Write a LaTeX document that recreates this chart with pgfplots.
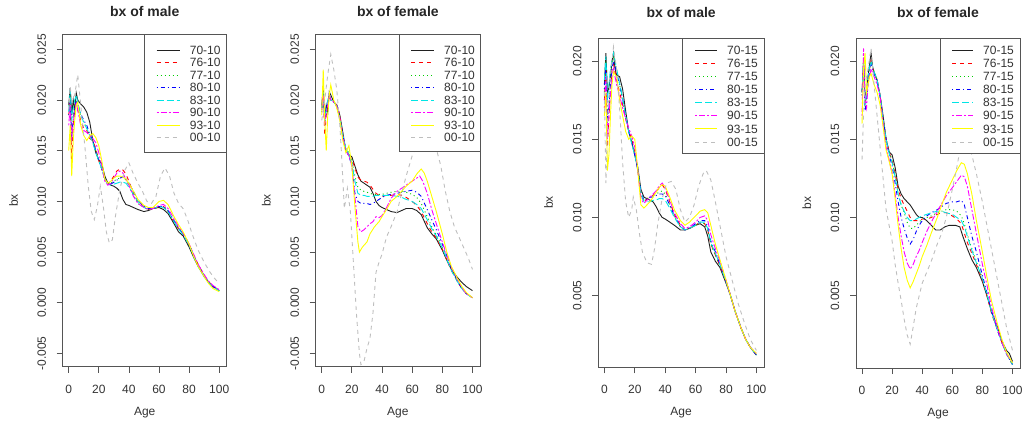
\documentclass[border=0pt]{standalone}
\usepackage{pgfplots}
\pgfplotsset{compat=1.18}
\usepackage{fontspec}
\setmainfont{Liberation Sans}
\definecolor{rblack}{HTML}{202020}
\definecolor{rred}{HTML}{FF0000}
\definecolor{rgreen}{HTML}{00CD00}
\definecolor{rblue}{HTML}{0000FF}
\definecolor{rcyan}{HTML}{00E5E5}
\definecolor{rmag}{HTML}{FF00FF}
\definecolor{ryel}{HTML}{FFFF00}
\definecolor{rgray}{HTML}{BEBEBE}
\definecolor{boxcol}{HTML}{555555}
\tikzset{
  s1/.style={draw=rblack, solid, line width=0.9pt},
  s2/.style={draw=rred, dash pattern=on 4pt off 4pt, line width=0.9pt},
  s3/.style={draw=rgreen, dash pattern=on 1pt off 3pt, line width=0.9pt},
  s4/.style={draw=rblue, dash pattern=on 1pt off 3pt on 4pt off 3pt, line width=0.9pt},
  s5/.style={draw=rcyan, dash pattern=on 7pt off 3pt, line width=0.9pt},
  s6/.style={draw=rmag, dash pattern=on 2pt off 2pt on 6pt off 2pt, line width=0.9pt},
  s7/.style={draw=ryel, solid, line width=0.9pt},
  s8/.style={draw=rgray, dash pattern=on 4pt off 4pt, line width=0.9pt},
}
% legend helpers (drawn inside each axis, relative to its top-right corner)
\newcommand{\legbox}[2]{\draw[boxcol, line width=0.8pt, fill=white]
  ([xshift=-#1pt,yshift=-#2pt]rel axis cs:1,1) rectangle (rel axis cs:1,1);}
\newcommand{\legentry}[6]{%
  \draw[#1] ([xshift=-#4pt,yshift=-#2pt]rel axis cs:1,1) -- ([xshift=-#5pt,yshift=-#2pt]rel axis cs:1,1);
  \node[anchor=west, inner sep=0pt, font=\fontsize{12}{12}\selectfont, text=black!80]
    at ([xshift=-#6pt,yshift=-#2pt]rel axis cs:1,1) {#3};}
\pgfplotsset{
  rpanel/.style={
    scale only axis, clip mode=individual,
    scaled y ticks=false, scaled x ticks=false,
    axis line style={draw=boxcol, line width=0.8pt},
    tick align=outside, major tick length=6pt,
    tick style={draw=boxcol, line width=0.8pt},
    xtick pos=bottom, ytick pos=left,
    xmin=-4, xmax=105, xtick={0,20,40,60,80,100},
    xticklabels={0,20,40,60,80,100},
    ticklabel style={font=\fontsize{12}{12}\selectfont, text=black!80},
    xticklabel style={anchor=north, inner ysep=12pt},
    yticklabel style={rotate=90, anchor=south, inner ysep=10.5pt},
    xlabel={Age}, ylabel={bx},
    label style={font=\fontsize{12}{12}\selectfont, text=black!80},
    xlabel style={at={(axis description cs:0.5,-0.137)}, anchor=center},
    ylabel style={at={(axis description cs:-0.30,0.5)}, anchor=center},
    title style={anchor=center, font=\bfseries\fontsize{14}{14}\selectfont, text=black!85},
  },
}
\begin{document}
\begin{tikzpicture}[x=1pt,y=1pt]
\path[use as bounding box] (0,0) rectangle (1025,424);
% ---------------- Panel 1: male -10
\begin{axis}[rpanel, at={(62.7pt,57.3pt)}, anchor=south west, width=164pt, height=332.4pt,
  ymin=-0.0063, ymax=0.02648,
  ytick={-0.005,0,0.005,0.01,0.015,0.02,0.025},
  yticklabels={-0.005,0.000,0.005,0.010,0.015,0.020,0.025},
  title={bx of male}, title style={at={(axis description cs:0.5,1.0506)}}]
\addplot[s1] coordinates {(0,0.0195)(1,0.0212)(2,0.0185)(3,0.0200)(4,0.0190)(5,0.0207)(6,0.0200)(8,0.0196)(10,0.0193)(12,0.0188)(14,0.0178)(16,0.0160)(18,0.0148)(20,0.0141)(22,0.0137)(24,0.0125)(26,0.0118)(28,0.0116)(30,0.0115)(32,0.0113)(34,0.0110)(36,0.0102)(38,0.0097)(40,0.0096)(43,0.0094)(46,0.0092)(50,0.0090)(53,0.0091)(56,0.0093)(60,0.0094)(63,0.0092)(66,0.0088)(70,0.0078)(73,0.0070)(76,0.0066)(80,0.0055)(83,0.0045)(86,0.0036)(90,0.0026)(93,0.0020)(96,0.0016)(100,0.0012)};
\addplot[s2] coordinates {(0,0.0185)(1,0.0200)(2,0.0140)(3,0.0175)(4,0.0190)(5,0.0195)(6,0.0190)(8,0.0180)(10,0.0172)(12,0.0170)(14,0.0162)(16,0.0160)(18,0.0152)(20,0.0140)(22,0.0132)(24,0.0122)(26,0.0118)(28,0.0120)(30,0.0125)(32,0.0130)(34,0.0132)(36,0.0131)(38,0.0127)(40,0.0120)(43,0.0108)(46,0.0100)(50,0.0095)(53,0.0092)(56,0.0092)(60,0.0095)(63,0.0095)(66,0.0090)(70,0.0080)(73,0.0073)(76,0.0068)(80,0.0058)(83,0.0047)(86,0.0038)(90,0.0027)(93,0.0021)(96,0.0016)(100,0.0013)};
\addplot[s3] coordinates {(0,0.0190)(1,0.0205)(2,0.0160)(3,0.0185)(4,0.0195)(5,0.0200)(6,0.0195)(8,0.0185)(10,0.0178)(12,0.0172)(14,0.0165)(16,0.0160)(18,0.0150)(20,0.0140)(22,0.0133)(24,0.0122)(26,0.0117)(28,0.0118)(30,0.0120)(32,0.0122)(34,0.0123)(36,0.0124)(38,0.0121)(40,0.0115)(43,0.0106)(46,0.0098)(50,0.0094)(53,0.0092)(56,0.0093)(60,0.0095)(63,0.0094)(66,0.0090)(70,0.0080)(73,0.0073)(76,0.0067)(80,0.0057)(83,0.0047)(86,0.0037)(90,0.0027)(93,0.0020)(96,0.0016)(100,0.0012)};
\addplot[s4] coordinates {(0,0.0185)(1,0.0200)(2,0.0165)(3,0.0180)(4,0.0192)(5,0.0200)(6,0.0196)(8,0.0186)(10,0.0180)(12,0.0175)(14,0.0166)(16,0.0160)(18,0.0150)(20,0.0140)(22,0.0132)(24,0.0122)(26,0.0117)(28,0.0117)(30,0.0119)(32,0.0121)(34,0.0123)(36,0.0124)(38,0.0123)(40,0.0118)(43,0.0110)(46,0.0101)(50,0.0095)(53,0.0093)(56,0.0093)(60,0.0095)(63,0.0095)(66,0.0091)(70,0.0081)(73,0.0074)(76,0.0068)(80,0.0058)(83,0.0047)(86,0.0037)(90,0.0027)(93,0.0020)(96,0.0016)(100,0.0012)};
\addplot[s5] coordinates {(0,0.0188)(1,0.0210)(2,0.0180)(3,0.0192)(4,0.0200)(5,0.0205)(6,0.0198)(8,0.0185)(10,0.0178)(12,0.0172)(14,0.0165)(16,0.0158)(18,0.0148)(20,0.0140)(22,0.0132)(24,0.0122)(26,0.0117)(28,0.0116)(30,0.0117)(32,0.0118)(34,0.0119)(36,0.0119)(38,0.0118)(40,0.0114)(43,0.0107)(46,0.0100)(50,0.0094)(53,0.0092)(56,0.0093)(60,0.0095)(63,0.0094)(66,0.0090)(70,0.0080)(73,0.0073)(76,0.0067)(80,0.0057)(83,0.0046)(86,0.0036)(90,0.0026)(93,0.0020)(96,0.0016)(100,0.0012)};
\addplot[s6] coordinates {(0,0.0175)(1,0.0195)(2,0.0160)(3,0.0178)(4,0.0188)(5,0.0198)(6,0.0190)(8,0.0175)(10,0.0170)(12,0.0168)(14,0.0165)(16,0.0162)(18,0.0158)(20,0.0148)(22,0.0135)(24,0.0120)(26,0.0116)(28,0.0118)(30,0.0123)(32,0.0128)(34,0.0130)(36,0.0128)(38,0.0122)(40,0.0116)(43,0.0105)(46,0.0098)(50,0.0094)(53,0.0092)(56,0.0093)(60,0.0096)(63,0.0097)(66,0.0093)(70,0.0083)(73,0.0075)(76,0.0069)(80,0.0058)(83,0.0048)(86,0.0038)(90,0.0028)(93,0.0021)(96,0.0017)(100,0.0013)};
\addplot[s7] coordinates {(0,0.0150)(1,0.0175)(2,0.0125)(3,0.0160)(4,0.0180)(5,0.0195)(6,0.0198)(8,0.0175)(10,0.0165)(12,0.0160)(14,0.0165)(16,0.0167)(18,0.0163)(20,0.0155)(22,0.0140)(24,0.0122)(26,0.0118)(28,0.0120)(30,0.0123)(32,0.0125)(34,0.0125)(36,0.0124)(38,0.0122)(40,0.0118)(43,0.0110)(46,0.0102)(50,0.0096)(53,0.0094)(56,0.0094)(60,0.0100)(63,0.0101)(66,0.0097)(70,0.0085)(73,0.0077)(76,0.0070)(80,0.0058)(83,0.0046)(86,0.0036)(90,0.0026)(93,0.0019)(96,0.0014)(100,0.0011)};
\addplot[s8] coordinates {(0,0.0190)(1,0.0213)(2,0.0200)(4,0.0205)(6,0.0225)(7,0.0210)(9,0.0180)(11,0.0150)(13,0.0115)(15,0.0090)(17,0.0082)(19,0.0095)(21,0.0115)(23,0.0095)(25,0.0070)(27,0.0059)(29,0.0062)(31,0.0085)(34,0.0112)(37,0.0130)(40,0.0138)(43,0.0127)(46,0.0118)(49,0.0110)(52,0.0100)(55,0.0098)(58,0.0105)(61,0.0125)(64,0.0133)(67,0.0125)(70,0.0108)(73,0.0098)(76,0.0093)(79,0.0082)(82,0.0068)(86,0.0052)(90,0.0040)(94,0.0030)(97,0.0024)(100,0.0019)};
\legbox{82}{118}
\legentry{s1}{16}{70-10}{70}{47}{37}
\legentry{s2}{28.5}{76-10}{70}{47}{37}
\legentry{s3}{41}{77-10}{70}{47}{37}
\legentry{s4}{53.5}{80-10}{70}{47}{37}
\legentry{s5}{66}{83-10}{70}{47}{37}
\legentry{s6}{78.5}{90-10}{70}{47}{37}
\legentry{s7}{91}{93-10}{70}{47}{37}
\legentry{s8}{103.5}{00-10}{70}{47}{37}
\end{axis}
% ---------------- Panel 2: female -10
\begin{axis}[rpanel, at={(315.7pt,57.3pt)}, anchor=south west, width=164.3pt, height=332.4pt,
  ymin=-0.0063, ymax=0.02648,
  ytick={-0.005,0,0.005,0.01,0.015,0.02,0.025},
  yticklabels={-0.005,0.000,0.005,0.010,0.015,0.020,0.025},
  title={bx of female}, title style={at={(axis description cs:0.5,1.0506)}}]
\addplot[s1] coordinates {(0,0.0195)(1,0.0212)(2,0.0182)(3,0.0195)(4,0.0188)(5,0.0208)(6,0.0205)(8,0.0198)(10,0.0195)(12,0.0185)(14,0.0168)(16,0.0150)(18,0.0146)(20,0.0144)(22,0.0135)(24,0.0126)(26,0.0120)(28,0.0118)(30,0.0116)(32,0.0114)(34,0.0108)(36,0.0100)(38,0.0096)(40,0.0094)(43,0.0092)(46,0.0090)(50,0.0089)(53,0.0091)(56,0.0093)(60,0.0093)(63,0.0091)(66,0.0087)(70,0.0074)(73,0.0068)(76,0.0063)(80,0.0052)(83,0.0042)(86,0.0033)(90,0.0025)(93,0.0020)(96,0.0016)(100,0.0012)};
\addplot[s2] coordinates {(0,0.0192)(1,0.0205)(2,0.0165)(3,0.0185)(4,0.0195)(5,0.0205)(6,0.0200)(8,0.0198)(10,0.0195)(12,0.0185)(14,0.0165)(16,0.0150)(18,0.0145)(20,0.0142)(22,0.0133)(24,0.0124)(26,0.0121)(28,0.0120)(30,0.0119)(32,0.0116)(34,0.0112)(36,0.0108)(38,0.0106)(40,0.0105)(43,0.0106)(46,0.0106)(50,0.0107)(53,0.0106)(56,0.0104)(60,0.0100)(63,0.0096)(66,0.0090)(70,0.0078)(73,0.0070)(76,0.0064)(80,0.0053)(83,0.0042)(86,0.0032)(90,0.0021)(93,0.0014)(96,0.0009)(100,0.0005)};
\addplot[s3] coordinates {(0,0.0190)(1,0.0208)(2,0.0175)(3,0.0190)(4,0.0195)(5,0.0205)(6,0.0200)(8,0.0198)(10,0.0195)(12,0.0183)(14,0.0163)(16,0.0152)(18,0.0148)(20,0.0140)(22,0.0125)(24,0.0114)(26,0.0111)(28,0.0110)(30,0.0109)(32,0.0108)(34,0.0107)(36,0.0107)(38,0.0107)(40,0.0107)(43,0.0108)(46,0.0109)(50,0.0110)(53,0.0110)(56,0.0109)(60,0.0107)(63,0.0104)(66,0.0098)(70,0.0085)(73,0.0075)(76,0.0067)(80,0.0055)(83,0.0044)(86,0.0033)(90,0.0021)(93,0.0014)(96,0.0009)(100,0.0005)};
\addplot[s4] coordinates {(0,0.0188)(1,0.0205)(2,0.0178)(3,0.0190)(4,0.0197)(5,0.0203)(6,0.0200)(8,0.0198)(10,0.0194)(12,0.0182)(14,0.0165)(16,0.0150)(18,0.0145)(20,0.0135)(22,0.0108)(24,0.0100)(26,0.0098)(28,0.0098)(30,0.0098)(32,0.0097)(34,0.0098)(36,0.0100)(38,0.0102)(40,0.0104)(43,0.0106)(46,0.0107)(50,0.0108)(53,0.0109)(56,0.0110)(60,0.0111)(63,0.0109)(66,0.0105)(70,0.0092)(73,0.0082)(76,0.0072)(80,0.0058)(83,0.0046)(86,0.0034)(90,0.0022)(93,0.0014)(96,0.0009)(100,0.0005)};
\addplot[s5] coordinates {(0,0.0192)(1,0.0208)(2,0.0180)(3,0.0192)(4,0.0200)(5,0.0205)(6,0.0200)(8,0.0198)(10,0.0194)(12,0.0182)(14,0.0165)(16,0.0152)(18,0.0146)(20,0.0138)(22,0.0120)(24,0.0108)(26,0.0106)(28,0.0106)(30,0.0105)(32,0.0105)(34,0.0105)(36,0.0106)(38,0.0106)(40,0.0106)(43,0.0106)(46,0.0106)(50,0.0105)(53,0.0104)(56,0.0102)(60,0.0100)(63,0.0097)(66,0.0093)(70,0.0082)(73,0.0073)(76,0.0066)(80,0.0054)(83,0.0043)(86,0.0032)(90,0.0021)(93,0.0014)(96,0.0009)(100,0.0005)};
\addplot[s6] coordinates {(0,0.0190)(1,0.0205)(2,0.0175)(3,0.0188)(4,0.0195)(5,0.0205)(6,0.0200)(8,0.0198)(10,0.0194)(12,0.0182)(14,0.0163)(16,0.0150)(18,0.0145)(20,0.0135)(22,0.0105)(24,0.0075)(26,0.0070)(28,0.0072)(30,0.0075)(32,0.0078)(34,0.0080)(36,0.0085)(38,0.0084)(40,0.0086)(43,0.0094)(46,0.0103)(50,0.0110)(53,0.0113)(56,0.0116)(60,0.0120)(63,0.0123)(65,0.0125)(67,0.0120)(70,0.0108)(73,0.0092)(76,0.0078)(80,0.0060)(83,0.0047)(86,0.0035)(90,0.0023)(93,0.0015)(96,0.0009)(100,0.0005)};
\addplot[s7] coordinates {(0,0.0185)(1,0.0230)(2,0.0180)(3,0.0150)(4,0.0185)(5,0.0205)(6,0.0215)(8,0.0200)(10,0.0192)(12,0.0180)(14,0.0160)(16,0.0148)(18,0.0155)(20,0.0135)(22,0.0095)(24,0.0060)(25,0.0050)(27,0.0055)(30,0.0060)(32,0.0068)(35,0.0075)(38,0.0080)(40,0.0085)(43,0.0092)(46,0.0100)(50,0.0105)(53,0.0110)(56,0.0115)(60,0.0120)(63,0.0127)(66,0.0132)(68,0.0128)(70,0.0120)(73,0.0105)(76,0.0090)(80,0.0068)(83,0.0050)(86,0.0036)(90,0.0024)(93,0.0016)(96,0.0010)(100,0.0005)};
\addplot[s8] coordinates {(0,0.0180)(2,0.0200)(4,0.0225)(6,0.0245)(8,0.0230)(10,0.0210)(12,0.0175)(13,0.0150)(15,0.0093)(17,0.0113)(19,0.0090)(21,0.0040)(23,-0.0010)(25,-0.0050)(26,-0.0061)(28,-0.0058)(30,-0.0045)(32,-0.0035)(34,-0.0010)(36,0.0030)(38,0.0040)(40,0.0048)(43,0.0065)(46,0.0075)(50,0.0090)(53,0.0108)(56,0.0125)(60,0.0145)(63,0.0155)(66,0.0162)(70,0.0163)(73,0.0160)(76,0.0152)(79,0.0135)(82,0.0110)(85,0.0090)(88,0.0075)(91,0.0065)(94,0.0055)(97,0.0045)(100,0.0033)};
\legbox{81}{117}
\legentry{s1}{16}{70-10}{69}{46}{36}
\legentry{s2}{28.5}{76-10}{69}{46}{36}
\legentry{s3}{41}{77-10}{69}{46}{36}
\legentry{s4}{53.5}{80-10}{69}{46}{36}
\legentry{s5}{66}{83-10}{69}{46}{36}
\legentry{s6}{78.5}{90-10}{69}{46}{36}
\legentry{s7}{91}{93-10}{69}{46}{36}
\legentry{s8}{103.5}{00-10}{69}{46}{36}
\end{axis}
% ---------------- Panel 3: male -15
\begin{axis}[rpanel, at={(598.3pt,56.7pt)}, anchor=south west, width=165.7pt, height=329.3pt,
  ymin=0.00042, ymax=0.02147,
  ytick={0.005,0.01,0.015,0.02},
  yticklabels={0.005,0.010,0.015,0.020},
  title={bx of male}, title style={at={(axis description cs:0.5,1.0578)}}]
\addplot[s1] coordinates {(0,0.0185)(1,0.0205)(2,0.0180)(3,0.0183)(4,0.0190)(5,0.0200)(6,0.0205)(7,0.0195)(8,0.0191)(10,0.0190)(12,0.0182)(14,0.0168)(16,0.0155)(18,0.0148)(20,0.0140)(22,0.0132)(24,0.0118)(26,0.0113)(28,0.0112)(30,0.0111)(32,0.0110)(34,0.0107)(36,0.0103)(38,0.0100)(40,0.0099)(43,0.0097)(46,0.0095)(50,0.0092)(53,0.0092)(56,0.0093)(60,0.0095)(63,0.0096)(66,0.0094)(68,0.0088)(70,0.0078)(73,0.0072)(76,0.0068)(80,0.0058)(83,0.0050)(86,0.0040)(90,0.0029)(93,0.0022)(96,0.0017)(100,0.0012)};
\addplot[s2] coordinates {(0,0.0175)(1,0.0195)(2,0.0145)(3,0.0165)(4,0.0180)(5,0.0195)(6,0.0198)(8,0.0188)(10,0.0180)(12,0.0172)(14,0.0163)(16,0.0155)(18,0.0150)(20,0.0142)(22,0.0130)(24,0.0115)(26,0.0110)(28,0.0112)(30,0.0113)(32,0.0114)(34,0.0116)(36,0.0119)(38,0.0121)(40,0.0118)(43,0.0110)(46,0.0102)(50,0.0095)(53,0.0092)(56,0.0093)(60,0.0095)(63,0.0097)(66,0.0096)(68,0.0092)(70,0.0083)(73,0.0076)(76,0.0069)(80,0.0059)(83,0.0050)(86,0.0040)(90,0.0029)(93,0.0022)(96,0.0017)(100,0.0012)};
\addplot[s3] coordinates {(0,0.0180)(1,0.0200)(2,0.0160)(3,0.0175)(4,0.0188)(5,0.0198)(6,0.0203)(8,0.0195)(10,0.0185)(12,0.0175)(14,0.0165)(16,0.0155)(18,0.0148)(20,0.0140)(22,0.0130)(24,0.0116)(26,0.0111)(28,0.0112)(30,0.0113)(32,0.0114)(34,0.0115)(36,0.0116)(38,0.0117)(40,0.0115)(43,0.0108)(46,0.0101)(50,0.0094)(53,0.0092)(56,0.0093)(60,0.0095)(63,0.0097)(66,0.0096)(68,0.0092)(70,0.0083)(73,0.0076)(76,0.0069)(80,0.0059)(83,0.0050)(86,0.0040)(90,0.0029)(93,0.0022)(96,0.0017)(100,0.0012)};
\addplot[s4] coordinates {(0,0.0182)(1,0.0198)(2,0.0162)(3,0.0170)(4,0.0185)(5,0.0195)(6,0.0200)(8,0.0193)(10,0.0185)(12,0.0176)(14,0.0165)(16,0.0155)(18,0.0148)(20,0.0140)(22,0.0130)(24,0.0116)(26,0.0111)(28,0.0112)(30,0.0113)(32,0.0113)(34,0.0114)(36,0.0115)(38,0.0115)(40,0.0114)(43,0.0108)(46,0.0101)(50,0.0094)(53,0.0092)(56,0.0093)(60,0.0096)(63,0.0098)(66,0.0098)(68,0.0094)(70,0.0085)(73,0.0078)(76,0.0070)(80,0.0059)(83,0.0050)(86,0.0040)(90,0.0029)(93,0.0022)(96,0.0017)(100,0.0012)};
\addplot[s5] coordinates {(0,0.0188)(1,0.0203)(2,0.0175)(3,0.0185)(4,0.0195)(5,0.0200)(6,0.0205)(8,0.0195)(10,0.0186)(12,0.0176)(14,0.0165)(16,0.0155)(18,0.0147)(20,0.0140)(22,0.0130)(24,0.0116)(26,0.0110)(28,0.0110)(30,0.0110)(32,0.0111)(34,0.0111)(36,0.0112)(38,0.0112)(40,0.0111)(43,0.0106)(46,0.0100)(50,0.0094)(53,0.0092)(56,0.0093)(60,0.0095)(63,0.0097)(66,0.0097)(68,0.0093)(70,0.0084)(73,0.0077)(76,0.0070)(80,0.0059)(83,0.0050)(86,0.0040)(90,0.0029)(93,0.0022)(96,0.0017)(100,0.0012)};
\addplot[s6] coordinates {(0,0.0170)(1,0.0190)(2,0.0150)(3,0.0165)(4,0.0180)(5,0.0190)(6,0.0195)(8,0.0185)(10,0.0178)(12,0.0170)(14,0.0163)(16,0.0157)(18,0.0152)(20,0.0145)(22,0.0130)(24,0.0112)(26,0.0109)(28,0.0111)(30,0.0113)(32,0.0115)(34,0.0117)(36,0.0120)(38,0.0122)(40,0.0119)(43,0.0111)(46,0.0103)(50,0.0096)(53,0.0093)(56,0.0094)(60,0.0097)(63,0.0100)(66,0.0101)(68,0.0098)(70,0.0089)(73,0.0080)(76,0.0072)(80,0.0060)(83,0.0050)(86,0.0040)(90,0.0029)(93,0.0022)(96,0.0017)(100,0.0013)};
\addplot[s7] coordinates {(0,0.0165)(1,0.0180)(2,0.0130)(3,0.0140)(4,0.0165)(5,0.0185)(6,0.0193)(8,0.0190)(10,0.0175)(12,0.0165)(14,0.0155)(16,0.0150)(18,0.0152)(20,0.0150)(22,0.0130)(24,0.0108)(26,0.0106)(28,0.0108)(30,0.0110)(32,0.0113)(34,0.0116)(36,0.0119)(38,0.0121)(40,0.0120)(43,0.0113)(46,0.0105)(50,0.0098)(53,0.0095)(56,0.0097)(60,0.0101)(63,0.0104)(66,0.0105)(68,0.0103)(70,0.0095)(73,0.0083)(76,0.0073)(80,0.0060)(83,0.0050)(86,0.0040)(90,0.0029)(93,0.0022)(96,0.0017)(100,0.0013)};
\addplot[s8] coordinates {(0,0.0180)(1,0.0122)(2,0.0160)(4,0.0190)(6,0.0209)(8,0.0195)(10,0.0170)(12,0.0135)(14,0.0110)(16,0.0100)(18,0.0105)(19,0.0113)(21,0.0105)(23,0.0090)(25,0.0078)(28,0.0071)(31,0.0070)(33,0.0080)(35,0.0095)(38,0.0112)(41,0.0122)(44,0.0123)(47,0.0118)(50,0.0105)(53,0.0097)(56,0.0100)(59,0.0108)(62,0.0120)(65,0.0128)(67,0.0130)(70,0.0124)(73,0.0110)(76,0.0095)(80,0.0075)(84,0.0060)(88,0.0045)(92,0.0033)(96,0.0022)(100,0.0015)};
\legbox{81.3}{115.3}
\legentry{s1}{12.3}{70-15}{69}{47}{37}
\legentry{s2}{25.4}{76-15}{69}{47}{37}
\legentry{s3}{38.5}{77-15}{69}{47}{37}
\legentry{s4}{51.6}{80-15}{69}{47}{37}
\legentry{s5}{64.7}{83-15}{69}{47}{37}
\legentry{s6}{77.8}{90-15}{69}{47}{37}
\legentry{s7}{90.9}{93-15}{69}{47}{37}
\legentry{s8}{104}{00-15}{69}{47}{37}
\end{axis}
% ---------------- Panel 4: female -15
\begin{axis}[rpanel, at={(856pt,56pt)}, anchor=south west, width=164pt, height=330pt,
  ymin=0.00038, ymax=0.02147,
  ytick={0.005,0.01,0.015,0.02},
  yticklabels={0.005,0.010,0.015,0.020},
  title={bx of female}, title style={at={(axis description cs:0.5,1.0578)}}]
\addplot[s1] coordinates {(0,0.0180)(1,0.0200)(2,0.0178)(3,0.0180)(4,0.0190)(5,0.0198)(6,0.0205)(7,0.0196)(8,0.0193)(10,0.0188)(12,0.0178)(14,0.0165)(16,0.0150)(18,0.0142)(20,0.0140)(22,0.0132)(24,0.0120)(26,0.0115)(28,0.0112)(30,0.0110)(32,0.0108)(34,0.0105)(36,0.0102)(38,0.0100)(40,0.0100)(43,0.0098)(46,0.0095)(49,0.0092)(52,0.0092)(55,0.0094)(58,0.0095)(62,0.0095)(65,0.0094)(67,0.0088)(70,0.0080)(73,0.0073)(76,0.0068)(80,0.0059)(83,0.0050)(86,0.0040)(90,0.0030)(93,0.0021)(96,0.0015)(98,0.0013)(100,0.0008)};
\addplot[s2] coordinates {(0,0.0180)(1,0.0198)(2,0.0172)(3,0.0178)(4,0.0190)(5,0.0195)(6,0.0200)(8,0.0192)(10,0.0188)(12,0.0178)(14,0.0163)(16,0.0150)(18,0.0142)(20,0.0136)(22,0.0128)(24,0.0118)(26,0.0112)(28,0.0108)(30,0.0104)(32,0.0100)(34,0.0098)(36,0.0098)(38,0.0098)(40,0.0099)(43,0.0099)(46,0.0100)(50,0.0102)(53,0.0103)(56,0.0103)(60,0.0101)(63,0.0099)(66,0.0096)(68,0.0090)(70,0.0084)(73,0.0077)(76,0.0070)(80,0.0060)(83,0.0050)(86,0.0039)(90,0.0028)(93,0.0020)(96,0.0013)(100,0.0006)};
\addplot[s3] coordinates {(0,0.0178)(1,0.0198)(2,0.0170)(3,0.0178)(4,0.0188)(5,0.0195)(6,0.0200)(8,0.0193)(10,0.0188)(12,0.0178)(14,0.0163)(16,0.0150)(18,0.0142)(20,0.0136)(22,0.0127)(24,0.0115)(26,0.0108)(28,0.0103)(30,0.0097)(32,0.0093)(34,0.0093)(36,0.0095)(38,0.0097)(40,0.0099)(43,0.0100)(46,0.0101)(50,0.0103)(53,0.0104)(56,0.0105)(60,0.0105)(63,0.0104)(66,0.0101)(68,0.0096)(70,0.0089)(73,0.0080)(76,0.0072)(80,0.0061)(83,0.0051)(86,0.0040)(90,0.0028)(93,0.0020)(96,0.0013)(100,0.0006)};
\addplot[s4] coordinates {(0,0.0178)(1,0.0195)(2,0.0168)(3,0.0175)(4,0.0186)(5,0.0193)(6,0.0198)(8,0.0192)(10,0.0187)(12,0.0177)(14,0.0162)(16,0.0150)(18,0.0140)(20,0.0133)(22,0.0122)(24,0.0110)(26,0.0100)(28,0.0093)(30,0.0087)(32,0.0083)(34,0.0086)(36,0.0091)(38,0.0095)(40,0.0098)(43,0.0101)(46,0.0103)(50,0.0105)(53,0.0107)(56,0.0109)(60,0.0110)(63,0.0110)(66,0.0111)(68,0.0108)(70,0.0100)(73,0.0088)(76,0.0078)(80,0.0063)(83,0.0052)(86,0.0040)(90,0.0028)(93,0.0020)(96,0.0013)(100,0.0006)};
\addplot[s5] coordinates {(0,0.0180)(1,0.0200)(2,0.0172)(3,0.0180)(4,0.0190)(5,0.0196)(6,0.0200)(8,0.0193)(10,0.0188)(12,0.0178)(14,0.0163)(16,0.0150)(18,0.0141)(20,0.0135)(22,0.0126)(24,0.0115)(26,0.0108)(28,0.0104)(30,0.0100)(32,0.0098)(34,0.0098)(36,0.0099)(38,0.0100)(40,0.0101)(43,0.0102)(46,0.0103)(50,0.0104)(53,0.0104)(56,0.0103)(60,0.0102)(63,0.0100)(66,0.0098)(68,0.0094)(70,0.0088)(73,0.0079)(76,0.0071)(80,0.0061)(83,0.0051)(86,0.0040)(90,0.0028)(93,0.0020)(96,0.0013)(100,0.0006)};
\addplot[s6] coordinates {(0,0.0165)(1,0.0208)(2,0.0175)(3,0.0170)(4,0.0185)(5,0.0190)(6,0.0195)(8,0.0190)(10,0.0185)(12,0.0177)(14,0.0160)(16,0.0145)(18,0.0137)(20,0.0128)(22,0.0115)(24,0.0100)(26,0.0088)(28,0.0078)(30,0.0071)(32,0.0067)(34,0.0070)(36,0.0075)(38,0.0079)(40,0.0084)(43,0.0091)(46,0.0097)(50,0.0104)(53,0.0109)(56,0.0114)(60,0.0119)(63,0.0123)(66,0.0127)(68,0.0126)(70,0.0120)(73,0.0105)(76,0.0090)(80,0.0070)(83,0.0057)(86,0.0043)(90,0.0029)(93,0.0020)(96,0.0013)(100,0.0007)};
\addplot[s7] coordinates {(0,0.0160)(1,0.0195)(2,0.0205)(3,0.0180)(4,0.0185)(5,0.0190)(6,0.0192)(8,0.0185)(10,0.0180)(12,0.0172)(14,0.0158)(16,0.0143)(18,0.0136)(20,0.0128)(22,0.0112)(24,0.0095)(26,0.0080)(28,0.0068)(30,0.0060)(32,0.0055)(34,0.0059)(36,0.0064)(38,0.0069)(40,0.0075)(43,0.0082)(46,0.0090)(50,0.0100)(53,0.0108)(56,0.0116)(60,0.0124)(63,0.0130)(66,0.0135)(68,0.0134)(70,0.0128)(73,0.0115)(76,0.0098)(80,0.0078)(83,0.0062)(86,0.0047)(90,0.0032)(93,0.0022)(96,0.0014)(100,0.0007)};
\addplot[s8] coordinates {(0,0.0137)(1,0.0165)(2,0.0185)(4,0.0195)(6,0.0208)(8,0.0185)(10,0.0165)(12,0.0145)(14,0.0125)(16,0.0105)(18,0.0095)(20,0.0085)(22,0.0070)(24,0.0058)(26,0.0047)(28,0.0035)(30,0.0025)(32,0.0019)(34,0.0030)(36,0.0042)(38,0.0050)(40,0.0058)(43,0.0065)(46,0.0072)(50,0.0083)(53,0.0090)(56,0.0100)(60,0.0118)(63,0.0132)(66,0.0148)(68,0.0154)(70,0.0150)(73,0.0140)(76,0.0128)(80,0.0110)(83,0.0095)(86,0.0080)(90,0.0060)(93,0.0045)(96,0.0030)(100,0.0015)};
\legbox{79.3}{115}
\legentry{s1}{12.3}{70-15}{68}{47}{37}
\legentry{s2}{25.4}{76-15}{68}{47}{37}
\legentry{s3}{38.5}{77-15}{68}{47}{37}
\legentry{s4}{51.6}{80-15}{68}{47}{37}
\legentry{s5}{64.7}{83-15}{68}{47}{37}
\legentry{s6}{77.8}{90-15}{68}{47}{37}
\legentry{s7}{90.9}{93-15}{68}{47}{37}
\legentry{s8}{104}{00-15}{68}{47}{37}
\end{axis}
\end{tikzpicture}
\end{document}
